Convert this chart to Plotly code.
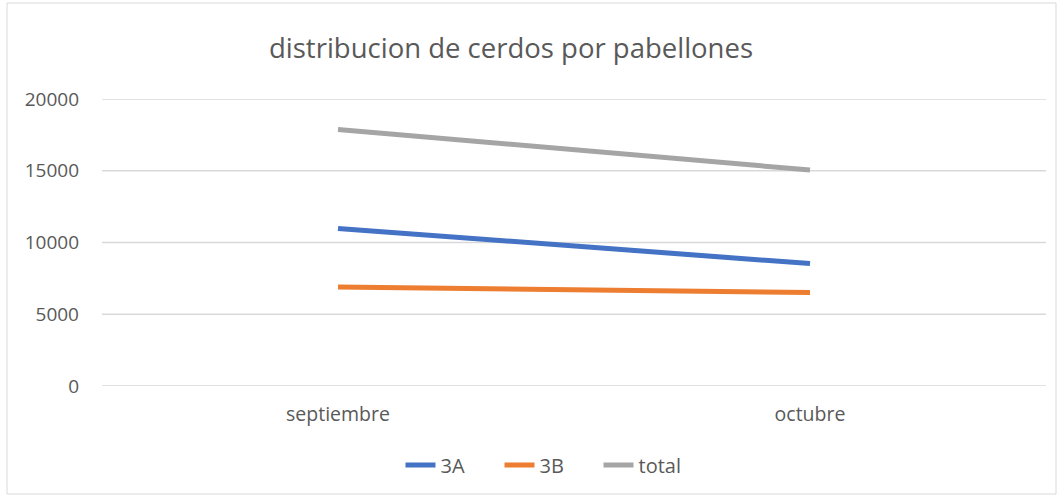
import plotly.graph_objects as go

categories = ["septiembre", "octubre"]
series_names = ["3A", "3B", "total"]
values_3a = [10980, 8530]
values_3b = [6900, 6520]
values_total = [17880, 15050]
colors = ["#4472C4", "#ED7D31", "#A5A5A5"]
y_ticks = [0, 5000, 10000, 15000, 20000]

fig = go.Figure()
for name, vals, col in zip(series_names, [values_3a, values_3b, values_total], colors):
    fig.add_trace(go.Scatter(
        x=categories, y=vals, name=name, mode="lines",
        line=dict(color=col, width=5),
    ))

W, H = 1063, 498
ml, mr, mt, mb = 102, 17, 99, 112
pw, ph = W - ml - mr, H - mt - mb

def px_to_paper_x(px):
    return (px - ml) / pw

def px_to_paper_y(py):
    return (H - mb - py) / ph

grid_shapes = [dict(type="line", xref="paper", yref="y", x0=0, x1=1, y0=v, y1=v,
                    line=dict(color="#D9D9D9", width=1.3), layer="below") for v in y_ticks]

fig.update_layout(
    width=W, height=H,
    margin=dict(l=ml, r=mr, t=mt, b=mb, autoexpand=False),
    paper_bgcolor="white", plot_bgcolor="white",
    font=dict(family="Open Sans, sans-serif", color="#595959", size=18),
    title=dict(text="distribucion de cerdos por pabellones", xref="container", x=511 / W,
               xanchor="center", y=1 - 48 / H, yanchor="middle",
               font=dict(size=27.5, color="#595959", family="Open Sans, sans-serif")),
    xaxis=dict(range=[-0.5, 1.5], showgrid=False, zeroline=False, showline=False,
               ticks="", ticklabelstandoff=14, tickfont=dict(size=19.5, color="#595959")),
    yaxis=dict(range=[0, 20000], tickvals=y_ticks, ticktext=[str(v) for v in y_ticks],
               showgrid=False, zeroline=False,
               showline=False, ticks="", ticklabelstandoff=22,
               tickfont=dict(size=19, color="#595959")),
    legend=dict(orientation="h", x=px_to_paper_x(549), xanchor="center",
                y=px_to_paper_y(465), yanchor="middle",
                entrywidth=54, entrywidthmode="pixels",
                font=dict(size=20, color="#595959"), traceorder="normal"),
    shapes=grid_shapes + [dict(type="rect", xref="paper", yref="paper",
                 x0=px_to_paper_x(7), x1=px_to_paper_x(1056),
                 y0=px_to_paper_y(494), y1=px_to_paper_y(3),
                 line=dict(color="#D9D9D9", width=1), fillcolor="rgba(0,0,0,0)", layer="below")],
)

fig.write_html("out.html", config={"displayModeBar": False},
               post_script="document.body.style.margin='0';document.body.style.padding='0';")
